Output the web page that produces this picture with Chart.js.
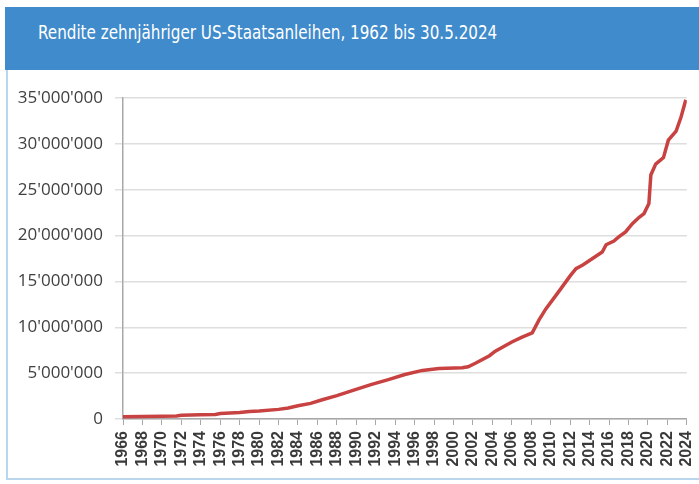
<!DOCTYPE html>
<html>
<head>
<meta charset="utf-8">
<script src="https://cdn.jsdelivr.net/npm/chart.js@4.4.1/dist/chart.umd.min.js"></script>
<style>
  body { margin: 0; background: #fff; width: 699px; height: 484px; overflow: hidden; position: relative; }
  #frame { position: absolute; left: 6px; top: 8px; width: 760px; height: 472px; border: 2px solid #b9d6ec; box-sizing: border-box; }
  #head { position: absolute; left: 5px; top: 7px; width: 694px; height: 63px; background: #3f8bcb; }
  #title { position: absolute; left: 38px; top: 21px; color: #fff; font: 19px "Liberation Sans Narrow", "DejaVu Sans Condensed", sans-serif; line-height: 22px; white-space: nowrap; transform-origin: 0 0; }
  #wrap { position: absolute; left: 0; top: 70px; width: 712px; height: 414px; }
</style>
</head>
<body>
<div id="frame"></div>
<div id="head"></div>
<div id="title">Rendite zehnjähriger US-Staatsanleihen, 1962 bis 30.5.2024</div>
<div id="wrap"><canvas id="chart"></canvas></div>
<script>
// Zeitpunkte (Jahr, dezimal) und Werte
const years = [1966, 1968, 1970, 1971.5, 1972, 1974, 1975.5, 1976, 1978, 1979, 1980, 1982, 1983, 1984,
  1985.3, 1986.5, 1988, 1989.9, 1991.5, 1993.3, 1995, 1996.8, 1998.5, 2000.9, 2001.5, 2002.3, 2003.7,
  2004.3, 2006, 2007, 2008.1, 2008.8, 2009.5, 2010.9, 2012, 2012.6, 2013.3, 2014.3, 2015.3, 2015.7,
  2016.5, 2017, 2017.7, 2018.4, 2019.1, 2019.6, 2020.1, 2020.3, 2020.8, 2021.6, 2022.1, 2022.9, 2023.4, 2023.9];
const values = [250000, 280000, 300000, 330000, 400000, 450000, 500000, 600000, 700000, 820000, 880000, 1050000, 1200000, 1450000,
  1700000, 2100000, 2550000, 3200000, 3750000, 4300000, 4850000, 5300000, 5500000, 5600000, 5700000, 6100000, 6900000,
  7400000, 8400000, 8900000, 9400000, 10800000, 12000000, 14000000, 15600000, 16400000, 16800000, 17500000, 18200000, 19000000,
  19400000, 19850000, 20400000, 21300000, 22000000, 22400000, 23500000, 26600000, 27800000, 28500000, 30400000, 31400000, 32900000, 34800000];
const yMax = 35000000;
const yStep = 5000000;
const xStart = 1966;
const xEnd = 2024;

const title = document.getElementById('title');
title.style.transform = 'scaleX(' + (459 / title.offsetWidth) + ')';

function swiss(v) {
    return String(v).replace(/\B(?=(\d{3})+(?!\d))/g, "'");
}

new Chart(document.getElementById('chart'), {
    type: 'line',
    data: {
        datasets: [{
            data: years.map((y, i) => ({ x: y, y: values[i] })),
            borderColor: 'rgb(201, 66, 66)',
            borderWidth: 3.5,
            pointRadius: 0,
            tension: 0,
            fill: false
        }]
    },
    options: {
        responsive: true,
        maintainAspectRatio: false,
        animation: false,
        layout: { padding: { top: 28, right: 0, left: 0, bottom: 0 } },
        plugins: { legend: { display: false }, tooltip: { enabled: false } },
        scales: {
            x: {
                type: 'linear',
                min: xStart,
                max: xEnd,
                afterFit: s => { s.height = 65; },
                ticks: {
                    stepSize: 2,
                    autoSkip: false,
                    minRotation: 90,
                    maxRotation: 90,
                    padding: 6,
                    color: '#3a3a3a',
                    font: { family: 'Liberation Sans', size: 16, weight: 'bold' },
                    callback: v => String(v)
                },
                grid: { drawOnChartArea: false, tickLength: 6, color: '#a8a8a8' },
                border: { color: '#a8a8a8', width: 1.5 }
            },
            y: {
                min: 0,
                max: yMax,
                afterFit: s => { s.width = 123; },
                ticks: {
                    stepSize: yStep,
                    padding: 12,
                    color: '#404040',
                    font: { family: 'Open Sans', size: 17 },
                    callback: v => swiss(v)
                },
                grid: { color: '#dedede', lineWidth: 1.5, tickLength: 8 },
                border: { color: '#a8a8a8', width: 1.5 }
            }
        }
    }
});
</script>
</body>
</html>
